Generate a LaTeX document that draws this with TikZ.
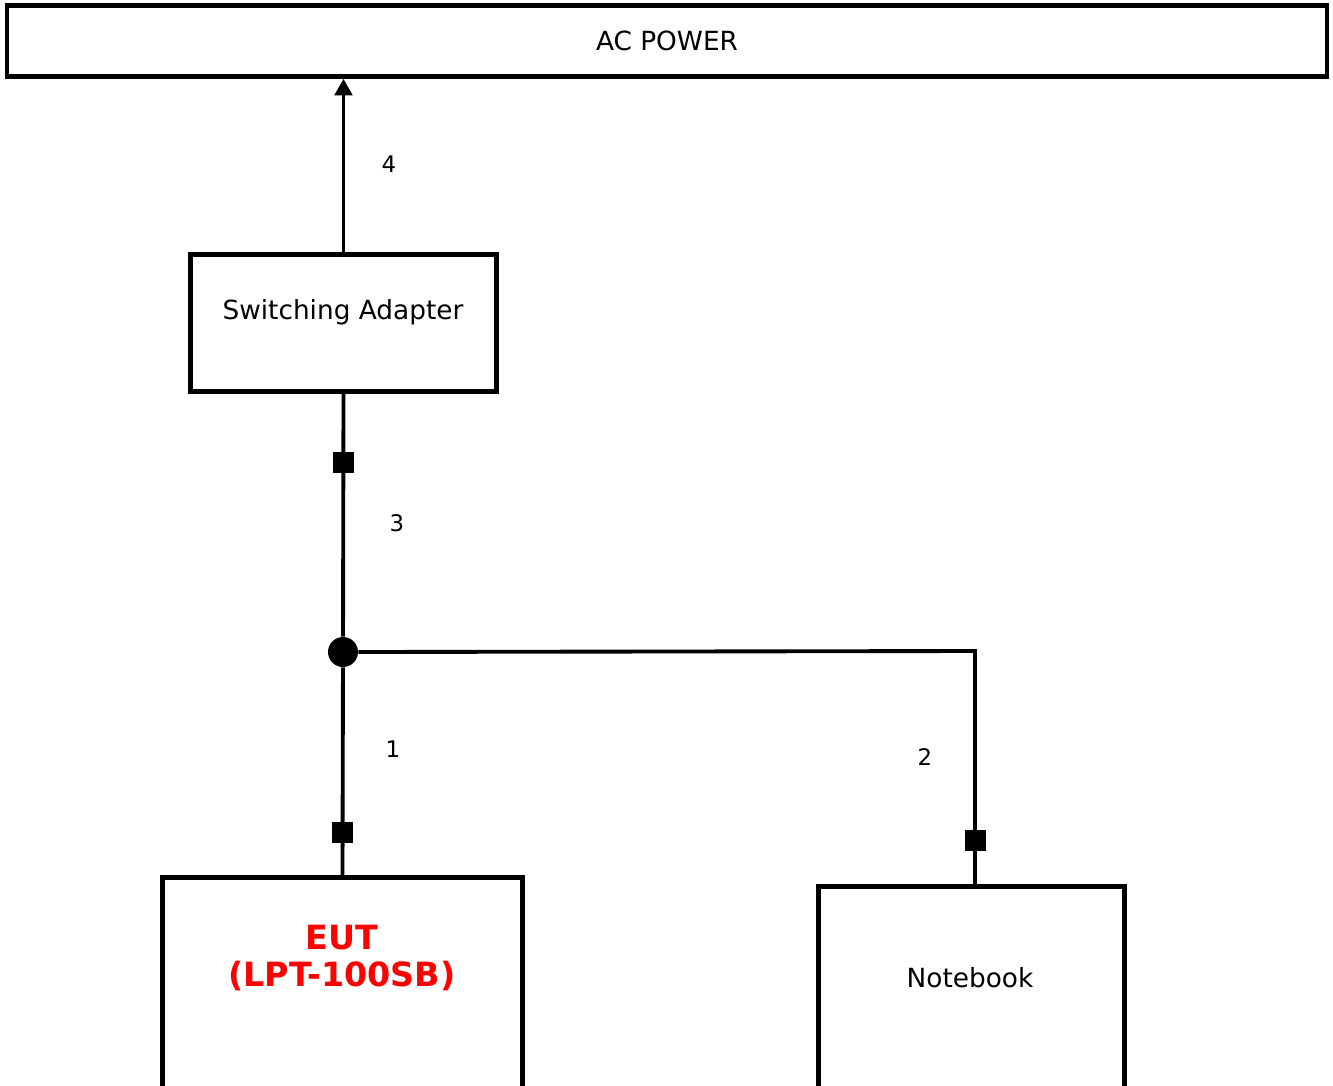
\documentclass[tikz,border=0pt]{standalone}
\usepackage{fontspec}
\setmainfont{DejaVu Sans}
\usetikzlibrary{arrows.meta}
\begin{document}
\begin{tikzpicture}[x=0.02cm, y=-0.02cm,
 box/.style={shape=rectangle, draw, line width=2.4pt, inner sep=0pt},
 plug/.style={shape=rectangle, fill=black, minimum size=0.42cm, inner sep=0pt, node contents=},
 joint/.style={shape=circle, fill=black, minimum size=0.6cm, inner sep=0pt, node contents=},
 cable/.style={line width=2.2pt},
 num/.style={font=\fontsize{13}{15}\selectfont},
 txt/.style={font=\fontsize{15}{18}\selectfont},
]
\useasboundingbox (0,0) rectangle (1333,1086);
\clip (0,0) rectangle (1333,1086);

%boxes
\node[box, line width=2.6pt, minimum width=26.4cm, minimum height=1.42cm, txt] (ac) at (667,41) {AC POWER};
\node[box, minimum width=6.12cm, minimum height=2.74cm] (adapter) at (343.5,323) {};
\node[txt] (adaptertext) at (343,312) {Switching Adapter};
\node[box, minimum width=7.2cm, minimum height=4.9cm] (eut) at (342.5,1000) {};
\node[font=\fontsize{19}{21}\selectfont\bfseries, text=red, align=center] (euttext) at (342,958) {EUT\\(LPT-100SB)};
\node[box, minimum width=6.12cm, minimum height=4.9cm] (notebook) at (971.5,1009) {};
\node[txt] (notebooktext) at (970,978) {Notebook};

%cables
\draw
node (p3) at (343,462) [plug]
node (j) at (343,652) [joint]
node (p1) at (342.5,832) [plug]
node (p2) at (975,840) [plug];
\coordinate (corner) at (975,651);

\draw[cable, -{Triangle[length=9.5pt, width=10pt]}] (adapter.north) -- (adapter.north |- ac.south);
\draw[cable] (adapter.south) -- (j);
\draw[cable] (j) -- (eut.north);
\draw[cable] (j.east) -- (corner) -- (corner |- notebook.north);

%numbers
\node[num] (n4) at (389,164) {4};
\node[num] (n3) at (397,523) {3};
\node[num] (n1) at (393,749) {1};
\node[num] (n2) at (925,757) {2};

\end{tikzpicture}
\end{document}
